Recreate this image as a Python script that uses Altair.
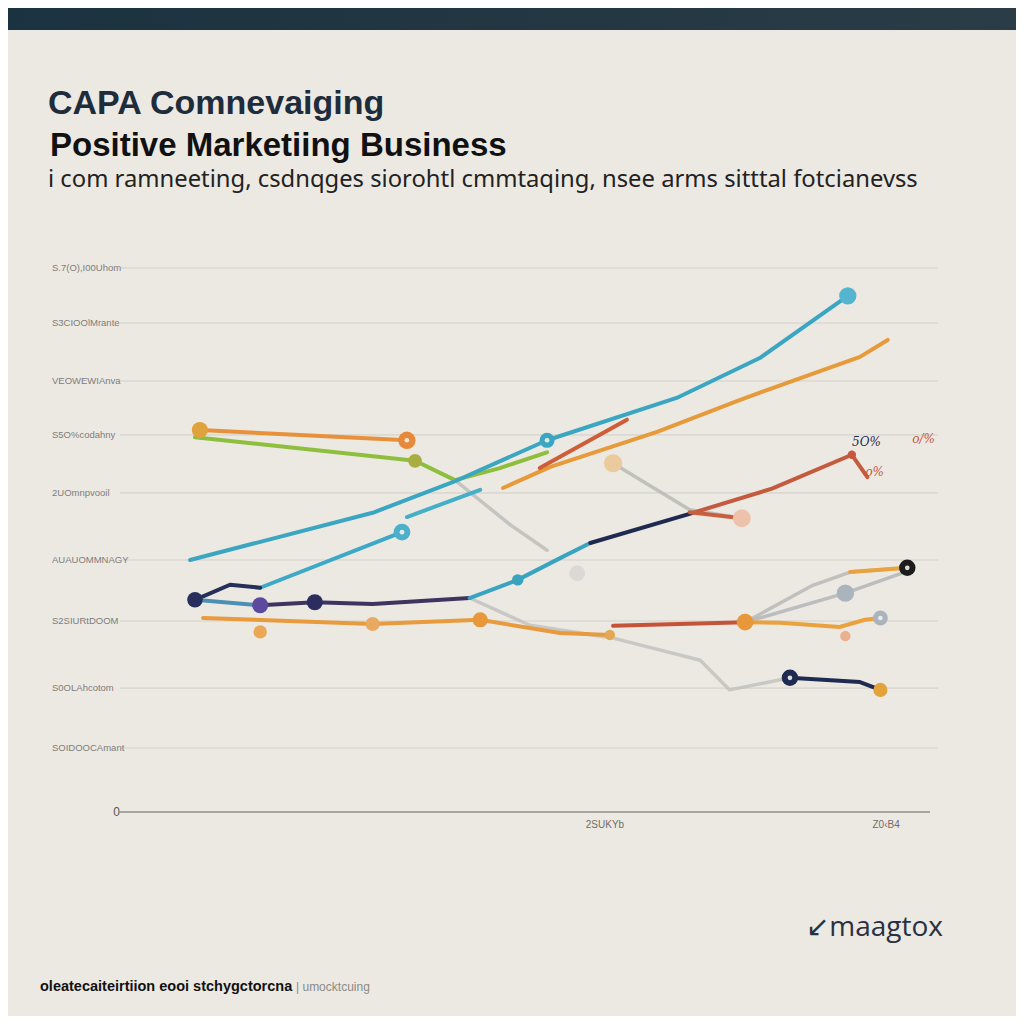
import altair as alt
import pandas as pd

# ---------------- data ----------------
# y gridline values and their (garbled) labels
grid_vals = [1.06, 2.05, 3.16, 4.17, 5.28, 6.24, 7.13, 8.09, 9.0]
grid_labels = ["SOIDOOCAmant", "S0OLAhcotom", "S2SIURtDOOM", "AUAUOMMNAGY",
               "2UOmnpvooil", "S5O%codahny", "VEOWEWIAnva", "S3CIOOlMrante",
               "S.7(O),I00Uhom"]
x_tick_vals = [59.5, 94.0]
x_tick_labels = ["2SUKYb", "Z0\u2039B4"]

# line segments: name -> (x list, y list, colour)
seg_names = ["grey1", "grey2", "grey3", "grey4", "grey5",
             "orange_top", "green", "teal_long", "teal_b", "teal_c",
             "navy_start", "steel_a", "navy_b", "teal_mid", "navy_mid",
             "red_long", "red_drop", "orange_low", "red_low", "orange_low2",
             "orange_rise", "red_short", "navy_end", "orange_tip"]
seg_x = [
    [41.1, 47.9, 52.4],
    [60.5, 69.9, 76.3],
    [42.9, 50.3, 60.4, 71.2, 74.8, 82.2],
    [76.7, 85.0, 89.6, 96.6],
    [76.7, 89.0, 96.3],
    [9.8, 35.2],
    [9.2, 36.2, 41.1, 46.6, 52.4],
    [8.6, 31.0, 40.9, 52.4, 68.3, 78.5, 89.3],
    [17.2, 34.6],
    [35.2, 44.2],
    [9.2, 13.5, 17.2],
    [9.2, 17.2],
    [17.2, 23.9, 31.0, 42.9],
    [42.9, 48.8, 54.0, 57.7],
    [57.7, 70.3],
    [70.3, 80.0, 89.8, 91.7],
    [69.9, 76.3],
    [10.2, 31.0, 44.2, 54.0, 60.1],
    [60.5, 76.7],
    [76.7, 81.0, 88.3, 91.4, 93.3],
    [47.0, 52.8, 65.9, 76.1, 90.8, 94.2],
    [51.5, 62.2],
    [82.2, 90.8, 93.3],
    [89.6, 96.6],
]
seg_y = [
    [5.49, 4.75, 4.33],
    [5.77, 5.00, 4.86],
    [3.54, 3.09, 2.88, 2.51, 2.02, 2.22],
    [3.14, 3.75, 3.97, 4.04],
    [3.14, 3.62, 3.97],
    [6.32, 6.15],
    [6.20, 5.81, 5.49, 5.69, 5.95],
    [4.17, 4.95, 5.46, 6.15, 6.85, 7.51, 8.54],
    [3.71, 4.63],
    [4.88, 5.33],
    [3.51, 3.76, 3.71],
    [3.51, 3.42],
    [3.42, 3.47, 3.44, 3.54],
    [3.54, 3.84, 4.20, 4.45],
    [4.45, 4.95],
    [4.95, 5.35, 5.91, 5.54],
    [4.96, 4.86],
    [3.21, 3.11, 3.18, 2.96, 2.93],
    [3.08, 3.14],
    [3.14, 3.13, 3.06, 3.18, 3.21],
    [5.36, 5.71, 6.29, 6.82, 7.53, 7.81],
    [5.69, 6.49],
    [2.22, 2.15, 2.02],
    [3.97, 4.04],
]
seg_colors = ["#BDBDBA", "#B8B8B6", "#C2C2BF", "#B9B9B7", "#B3B6B8",
              "#E8903A", "#8DBE3C", "#3BA6C2", "#3DA9C6", "#45AFC8",
              "#25305A", "#4C8FB4", "#3D3560", "#3AA3BF", "#1F2A50",
              "#C45A3E", "#C8603F", "#E89A3C", "#C5533A", "#E9A23E",
              "#E69A3A", "#CD5E38", "#1F2A50", "#E9A23E"]

# points
pt_x = [9.8, 35.2, 36.2, 52.4, 89.3, 34.6, 9.2, 17.2, 23.9, 48.8,
        17.2, 31.0, 44.2, 60.1, 76.7, 89.0, 93.3, 60.5, 76.3, 56.1,
        89.0, 96.6, 82.2, 93.3, 89.8]
pt_y = [6.32, 6.15, 5.81, 6.15, 8.54, 4.63, 3.51, 3.42, 3.47, 3.84,
        2.98, 3.11, 3.18, 2.93, 3.14, 2.91, 3.21, 5.77, 4.86, 3.95,
        3.62, 4.04, 2.22, 2.02, 5.91]
pt_colors = ["#E0A23C", "#E8893A", "#A9AE42", "#3BA6C2", "#55B4CF", "#4DB0CB",
             "#272E5C", "#5B4A9E", "#2C2D5E", "#3AA3BF",
             "#E8A855", "#E8AA62", "#E8983A", "#E3A855", "#E8983A", "#EDB08E",
             "#A9B4BC", "#EBCB9E", "#EEC2AA", "#DAD9D5",
             "#A9B4BC", "#1C1C1C", "#1F2A50", "#E2A23C", "#C8553D"]
pt_sizes = [260, 300, 190, 230, 300, 280, 240, 260, 260, 130,
            180, 200, 230, 110, 280, 110, 220, 330, 320, 250,
            300, 270, 270, 200, 70]
white_x = [35.2, 52.4, 34.6, 82.2, 93.3, 96.6]
white_y = [6.15, 6.15, 4.63, 2.22, 3.21, 4.04]

# end labels
lab_x = [91.6, 92.6, 98.6]
lab_y = [6.12, 5.62, 6.17]
lab_text = ["5O%", "o%", "o/%"]
lab_colors = ["#1F2A50", "#C8553D", "#C8553D"]

# ---------------- frames ----------------
rows = []
for name, xs_, ys_, c in zip(seg_names, seg_x, seg_y, seg_colors):
    for i, (xv, yv) in enumerate(zip(xs_, ys_)):
        rows.append({"seg": name, "i": i, "x": xv, "y": yv, "color": c,
                     "grey": name.startswith("grey")})
lines_df = pd.DataFrame(rows)
pts_df = pd.DataFrame({"x": pt_x, "y": pt_y, "color": pt_colors, "size": pt_sizes})
white_df = pd.DataFrame({"x": white_x, "y": white_y})
grid_df = pd.DataFrame({"v": grid_vals, "label": grid_labels})
xt_df = pd.DataFrame({"x": x_tick_vals, "label": x_tick_labels})
lab_df = pd.DataFrame({"x": lab_x, "y": lab_y, "text": lab_text, "color": lab_colors})

W, H = 815, 544
xs = alt.Scale(domain=[0, 100], nice=False, zero=False)
ys = alt.Scale(domain=[0, 9], nice=False, zero=False)
X = alt.X("x:Q", scale=xs, axis=None)
Y = alt.Y("y:Q", scale=ys, axis=None)

grid = alt.Chart(grid_df).mark_rule(color="#DCD9D3", strokeWidth=1.6).encode(
    y=alt.Y("v:Q", scale=ys, axis=None), x=alt.value(0), x2=alt.value(818))
glabels = alt.Chart(grid_df).mark_text(
    align="left", baseline="middle", font="Liberation Sans", fontSize=9.5,
    color="#7E7C79").encode(y=alt.Y("v:Q", scale=ys, axis=None), x=alt.value(-68),
                            text="label:N")
zero_df = pd.DataFrame({"v": [0], "label": ["0"]})
zero_rule = alt.Chart(zero_df).mark_rule(color="#8E8E8C", strokeWidth=1.5).encode(
    y=alt.Y("v:Q", scale=ys, axis=None), x=alt.value(0), x2=alt.value(810))
zero_lab = alt.Chart(zero_df).mark_text(
    align="right", baseline="middle", font="Liberation Sans", fontSize=12,
    color="#555").encode(y=alt.Y("v:Q", scale=ys, axis=None), x=alt.value(0),
                         text="label:N")
xlabels = alt.Chart(xt_df).mark_text(
    baseline="middle", font="Liberation Sans", fontSize=10,
    color="#6E6C69").encode(x=X, y=alt.value(H + 13), text="label:N")

grey_lines = alt.Chart(lines_df[lines_df.grey]).mark_line(
    strokeWidth=3.5, strokeCap="round", strokeJoin="round", opacity=0.85).encode(
    x=X, y=Y, detail="seg:N", order="i:Q", color=alt.Color("color:N", scale=None))
col_lines = alt.Chart(lines_df[~lines_df.grey]).mark_line(
    strokeWidth=4, strokeCap="round", strokeJoin="round").encode(
    x=X, y=Y, detail="seg:N", order="i:Q", color=alt.Color("color:N", scale=None))
points = alt.Chart(pts_df).mark_circle(opacity=1).encode(
    x=X, y=Y, color=alt.Color("color:N", scale=None),
    size=alt.Size("size:Q", scale=None))
whites = alt.Chart(white_df).mark_circle(color="#F4F1EC", size=22, opacity=0.9).encode(
    x=X, y=Y)
labels = alt.Chart(lab_df).mark_text(
    font="DejaVu Serif", fontStyle="italic", fontSize=12, align="center").encode(
    x=X, y=Y, text="text:N", color=alt.Color("color:N", scale=None))

# decoration (header, titles, footer)
deco_df = pd.DataFrame({"k": [0]})
band = alt.Chart(deco_df).mark_rect(
    color=alt.Gradient(gradient="linear",
                       stops=[alt.GradientStop(color="#1B3240", offset=0),
                              alt.GradientStop(color="#2A3C46", offset=1)],
                       x1=0, x2=1, y1=0, y2=0)).encode(
    x=alt.value(-112), x2=alt.value(896), y=alt.value(-260), y2=alt.value(-238))

def txt(t, x, y, size, color, weight="normal", font="Open Sans", align="left"):
    return alt.Chart(pd.DataFrame({"t": [t]})).mark_text(
        align=align, baseline="middle", fontSize=size, fontWeight=weight,
        font=font, color=color).encode(x=alt.value(x), y=alt.value(y), text="t:N")

title1 = txt("CAPA Comnevaiging", -72, -164, 34, "#1E2C3C", "bold",
             font="Liberation Sans")
title2 = txt("Positive Marketiing Business", -70, -122, 33, "#111111", "bold",
             font="Liberation Sans")
subtitle = txt("i com ramneeting, csdnqges siorohtl cmmtaqing, nsee arms sitttal fotcianevss",
               -72, -88, 23.8, "#222222", font="Noto Sans")
logo = txt("\u2199maagtox", 823, 660, 28, "#2A3040", font="Open Sans", align="right")
foot1 = txt("oleatecaiteirtiion eooi stchygctorcna", -80, 719, 14.5, "#111111", "bold",
            font="Liberation Sans")
foot2 = txt("| umocktcuing", 176, 719, 12, "#8A8A88", font="Liberation Sans")

chart = alt.layer(
    band, grid, zero_rule, glabels, zero_lab, xlabels,
    grey_lines, col_lines, points, whites, labels,
    title1, title2, subtitle, logo, foot1, foot2,
).properties(
    width=W, height=H,
    padding={"left": 112, "top": 260, "right": 81, "bottom": 204},
    autosize=alt.AutoSizeParams(type="none"),
    background="#ECE9E3",
).configure_view(stroke=None)

chart.save("out.html", embed_options={"renderer": "svg", "actions": False})
